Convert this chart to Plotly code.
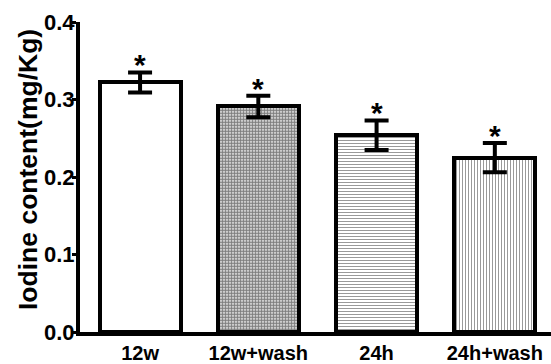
import plotly.graph_objects as go

categories = ["12w", "12w+wash", "24h", "24h+wash"]
means = [0.322, 0.291, 0.254, 0.225]
errors = [0.013, 0.014, 0.019, 0.019]
y_ticks = [0.0, 0.1, 0.2, 0.3, 0.4]
y_title = "Iodine content(mg/Kg)"

FONT = "Liberation Sans, Arial, sans-serif"
xpos = list(range(len(categories)))
shapes = ["", ".", "-", "|"]
sizes = [8, 3, 3, 3]
solid = [0.3, 0.7, 0.35, 0.35]

fig = go.Figure()
for i, c in enumerate(categories):
    fig.add_trace(go.Bar(
        x=[xpos[i]], y=[means[i]], width=0.686,
        marker=dict(color="white",
                    line=dict(color="black", width=4),
                    pattern=dict(shape=shapes[i], fgcolor="#333" if i > 1 else "black",
                                 bgcolor="white", size=sizes[i], solidity=solid[i])),
        error_y=dict(type="data", array=[errors[i]], color="black", thickness=4, width=12),
        showlegend=False,
    ))
    fig.add_annotation(x=xpos[i], y=means[i] + errors[i], text="<b>*</b>",
                       showarrow=False, yanchor="bottom", yshift=-11,
                       font=dict(family=FONT, size=30, color="black"))

fig.add_annotation(text="<b>%s</b>" % y_title, textangle=-90,
                   xref="paper", yref="paper", x=0, y=0.5,
                   xanchor="center", yanchor="middle", xshift=-52, yshift=7,
                   showarrow=False, font=dict(family=FONT, size=26.5, color="black"))

fig.update_layout(
    width=551, height=364,
    margin=dict(l=80, r=0, t=22, b=26),
    plot_bgcolor="white", paper_bgcolor="white",
    bargap=0,
    font=dict(family=FONT, color="black"),
)
fig.update_xaxes(
    range=[-0.508, 3.475], tickvals=xpos,
    ticktext=["<b>%s</b>" % c for c in categories],
    tickfont=dict(size=20, family=FONT), ticks="",
    showline=True, linecolor="black", linewidth=4,
    showgrid=False, zeroline=False,
)
fig.update_yaxes(
    range=[0, 0.4], tickvals=y_ticks,
    ticktext=["<b>%.1f</b>" % v for v in y_ticks],
    tickfont=dict(size=22, family=FONT),
    ticks="outside", ticklen=4, tickwidth=3, tickcolor="black",
    ticklabelstandoff=-7,
    showline=True, linecolor="black", linewidth=4,
    showgrid=False, zeroline=False,
)
fig.write_html("out.html")
